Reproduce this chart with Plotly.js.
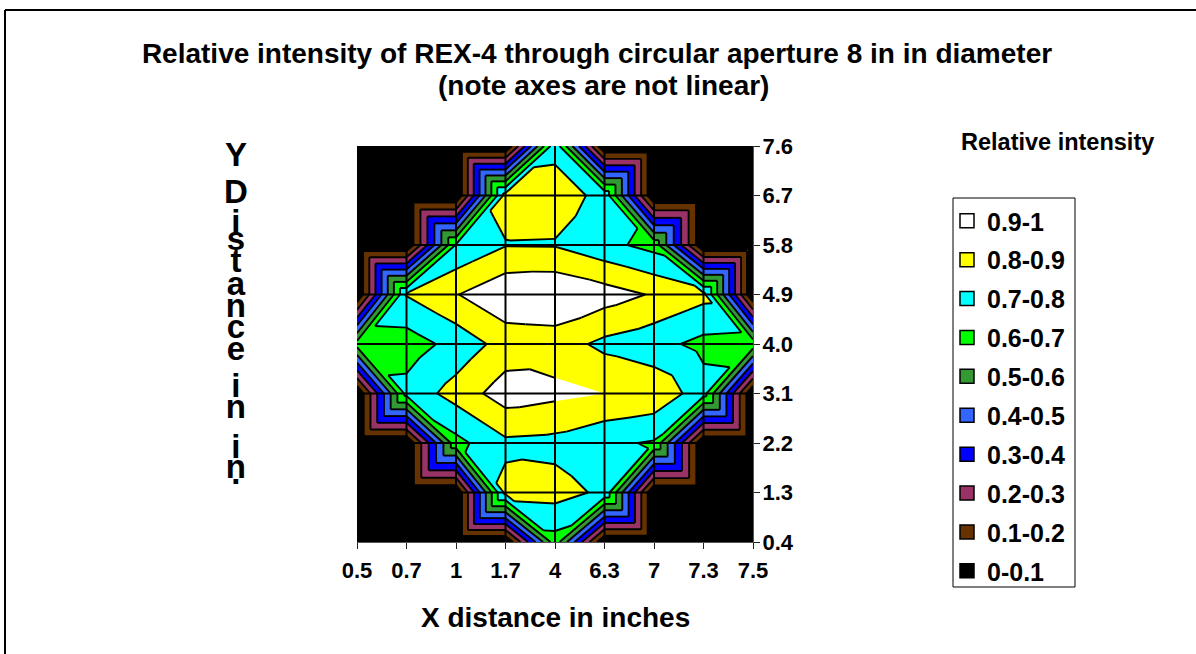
<!DOCTYPE html>
<html>
<head>
<meta charset="utf-8">
<script src="https://cdn.plot.ly/plotly-3.0.1.min.js"></script>
<style>html,body{margin:0;padding:0;background:#fff}#chart{width:1196px;height:654px}</style>
</head>
<body>
<div id="chart"></div>
<script>
// ---------- data ----------
const xLabels = ['0.5','0.7','1','1.7','4','6.3','7','7.3','7.5'];
const yLabels = ['7.6','6.7','5.8','4.9','4.0','3.1','2.2','1.3','0.4'];
const row76 = [0,0,0,0,0.77,0,0,0,0];
const row67 = [0,0,0,0.84,0.85,0.77,0,0,0];
const row58 = [0,0,0.71,0.795,0.793,0.73,0.665,0,0];
const row49 = [0,0.805,0.895,0.98,0.99,0.946,0.89,0.83,0];
const row40 = [0.64,0.648,0.735,0.84,0.848,0.775,0.735,0.67,0.66];
const row31 = [0,0.735,0.84,0.95,0.924,0.9,0.875,0.745,0];
const row22 = [0,0,0.67,0.78,0.77,0.72,0.69,0,0];
const row13 = [0,0,0,0.83,0.84,0.78,0,0,0];
const row04 = [0,0,0,0,0.66,0,0,0,0];
const bandNames = ['0.9-1','0.8-0.9','0.7-0.8','0.6-0.7','0.5-0.6','0.4-0.5','0.3-0.4','0.2-0.3','0.1-0.2','0-0.1'];
const bandColors = ['#FFFFFF','#FFFF00','#00FFFF','#00FF00','#339933','#3366FF','#0000FF','#993366','#663300','#000000'];
const bandLows = [0.9,0.8,0.7,0.6,0.5,0.4,0.3,0.2,0.1,0];
const bandHighs = [1,0.9,0.8,0.7,0.6,0.5,0.4,0.3,0.2,0.1];
const contourLevels = [0.1,0.2,0.3,0.4,0.5,0.6,0.7,0.8,0.9];
const titleLine1 = 'Relative intensity of REX-4 through circular aperture 8 in in diameter';
const titleLine2 = '(note axes are not linear)';
const xTitle = 'X distance in inches';
const legendTitle = 'Relative intensity';
const yTitleLetters = ['Y','D','i','s','t','a','n','c','e','i','n','i','n','.'];
const yTitleBaselines = [166,203,233,250,272,295,317,338,360,397,418,458,478,484];

// ---------- geometry helpers ----------
const zRows = [row76,row67,row58,row49,row40,row31,row22,row13,row04];
const L=357,R=753,T=146,B=542,W=R-L,H=B-T;
const px = x => (x-L)/W, py = y => (B-y)/H;
const FONT = '"Liberation Sans", Arial, sans-serif';
const nx = xLabels.length, ny = yLabels.length;
const yNum = yLabels.map(Number);

function clip(poly, lvl, above){
  const out=[];
  for(let i=0;i<poly.length;i++){
    const a=poly[i], b=poly[(i+1)%poly.length];
    const ina = above ? a[2]>=lvl : a[2]<=lvl;
    const inb = above ? b[2]>=lvl : b[2]<=lvl;
    if(ina) out.push(a);
    if(ina!==inb){
      const t=(lvl-a[2])/(b[2]-a[2]);
      out.push([a[0]+t*(b[0]-a[0]), a[1]+t*(b[1]-a[1]), lvl]);
    }
  }
  return out;
}
const bandX = bandNames.map(()=>[]), bandY = bandNames.map(()=>[]);
const lineX=[], lineY=[];
function addPoly(b, poly){
  if(poly.length<3) return;
  poly.forEach(p=>{bandX[b].push(p[0]); bandY[b].push(p[1]);});
  bandX[b].push(poly[0][0],null); bandY[b].push(poly[0][1],null);
}
function bandOf(z){ for(let b=0;b<bandLows.length;b++){ if(z>=bandLows[b]) return b; } return bandLows.length-1; }
function addTriangle(tri){
  bandLows.forEach((lo,b)=>{
    addPoly(b, clip(clip(tri,lo,true),bandHighs[b],false));
  });
  contourLevels.forEach(l=>{
    const pts=[];
    for(let i=0;i<3;i++){
      const a=tri[i], b=tri[(i+1)%3];
      if((a[2]-l)*(b[2]-l)<0){
        const t=(l-a[2])/(b[2]-a[2]);
        pts.push([a[0]+t*(b[0]-a[0]), a[1]+t*(b[1]-a[1])]);
      }
    }
    if(pts.length===2){
      lineX.push(pts[0][0],pts[1][0],null);
      lineY.push(pts[0][1],pts[1][1],null);
    }
  });
}
for(let r=0;r<ny-1;r++){
  for(let c=0;c<nx-1;c++){
    const tl=[c,yNum[r],zRows[r][c]], tr=[c+1,yNum[r],zRows[r][c+1]];
    const bl=[c,yNum[r+1],zRows[r+1][c]], br=[c+1,yNum[r+1],zRows[r+1][c+1]];
    const bs=[tl,tr,bl,br].map(p=>bandOf(p[2]));
    if(bs.every(b=>b===bs[0])){ addPoly(bs[0],[tl,tr,br,bl]); continue; }
    if(tl[2]+br[2] >= tr[2]+bl[2]){ addTriangle([tl,tr,br]); addTriangle([tl,br,bl]); }
    else { addTriangle([tl,tr,bl]); addTriangle([tr,br,bl]); }
  }
}
const gridX=[], gridY=[];
for(let c=1;c<nx-1;c++){ gridX.push(c,c,null); gridY.push(yNum[0],yNum[ny-1],null); }
for(let r=1;r<ny-1;r++){ gridX.push(0,nx-1,null); gridY.push(yNum[r],yNum[r],null); }

// ---------- traces ----------
const traces=[];
bandNames.forEach((name,b)=>{
  traces.push({type:'scatter',mode:'lines',x:bandX[b],y:bandY[b],fill:'toself',fillcolor:bandColors[b],
    line:{width:0,simplify:false,color:bandColors[b]},connectgaps:false,showlegend:false,hoverinfo:'skip',name:name});
});
traces.push({type:'scatter',mode:'lines',x:lineX,y:lineY,connectgaps:false,line:{color:'#000',width:1.9,simplify:false},showlegend:false,hoverinfo:'skip'});
traces.push({type:'scatter',mode:'lines',x:gridX,y:gridY,connectgaps:false,line:{color:'#000',width:2,simplify:false},showlegend:false,hoverinfo:'skip'});
bandNames.forEach((name,b)=>{
  traces.push({type:'scatter',mode:'markers',x:[null],y:[null],name:name,legendgroup:name,
    marker:{symbol:'square',size:14,color:bandColors[b],line:{color:'#000',width:1.5}},hoverinfo:'skip'});
});

// ---------- annotations ----------
const annotations=[];
annotations.push({xref:'paper',yref:'paper',x:px(236),y:py(310),xanchor:'center',yanchor:'middle',
  text:yTitleLetters.join('<br>'),showarrow:false,borderpad:0,align:'center',
  font:{family:FONT,size:33,color:'#000',weight:700}});
annotations.push({xref:'paper',yref:'paper',x:px(603),y:py(86),xanchor:'center',yanchor:'middle',text:'<b>'+titleLine2+'</b>',
  showarrow:false,font:{family:FONT,size:28,color:'#000'}});
annotations.push({xref:'paper',yref:'paper',x:px(1057),y:py(142),xanchor:'center',yanchor:'middle',text:'<b>'+legendTitle+'</b>',
  showarrow:false,font:{family:FONT,size:23.5,color:'#000'}});
annotations.push({xref:'paper',yref:'paper',x:px(555),y:py(617),xanchor:'center',yanchor:'middle',text:'<b>'+xTitle+'</b>',
  showarrow:false,font:{family:FONT,size:28,color:'#000'}});

const layout={
  width:1196,height:654,margin:{l:L,r:1196-R,t:T,b:654-B,pad:0},
  paper_bgcolor:'#fff',plot_bgcolor:'#fff',
  font:{family:FONT,color:'#000'},
  title:{text:'<b>'+titleLine1+'</b>',x:597/1196,xanchor:'center',y:1-53/654,yanchor:'middle',
    font:{family:FONT,size:28,color:'#000'}},
  xaxis:{type:'linear',range:[0,nx-1],tickmode:'array',tickvals:xLabels.map((_,i)=>i),ticktext:xLabels,
    showgrid:false,zeroline:false,showline:true,linecolor:'#555',linewidth:1,ticklabelstandoff:3,
    ticks:'outside',ticklen:6,tickwidth:1,tickcolor:'#222',tickfont:{family:FONT,size:22,color:'#000',weight:700}},
  yaxis:{type:'linear',side:'right',range:[yNum[ny-1],yNum[0]],tickmode:'array',tickvals:yNum,ticktext:yLabels,
    showgrid:false,zeroline:false,showline:true,linecolor:'#555',linewidth:1,ticklabelstandoff:-2,
    ticks:'outside',ticklen:6,tickwidth:1,tickcolor:'#222',tickfont:{family:FONT,size:22,color:'#000',weight:700}},
  legend:{x:px(947),y:py(198),xanchor:'left',yanchor:'top',bgcolor:'rgba(0,0,0,0)',borderwidth:0,maxheight:420,
    traceorder:'grouped',tracegroupgap:3.4,entrywidth:85,entrywidthmode:'pixels',itemclick:false,itemdoubleclick:false,
    font:{family:FONT,size:25,color:'#000',weight:700}},
  shapes:[
    {type:'line',xref:'paper',yref:'paper',x0:px(5),x1:px(1196),y0:py(10),y1:py(10),line:{color:'#000',width:2}},
    {type:'line',xref:'paper',yref:'paper',x0:px(5),x1:px(5),y0:py(10),y1:py(654),line:{color:'#000',width:2}},
    {type:'rect',xref:'paper',yref:'paper',x0:px(953),x1:px(1075),y0:py(198),y1:py(587),line:{color:'#000',width:1},fillcolor:'rgba(0,0,0,0)'}
  ],
  annotations:annotations,
  hovermode:false,showlegend:true
};
Plotly.newPlot('chart',traces,layout,{displayModeBar:false,responsive:false}).then(gd=>{
  // tighten the stacked axis-title letters to the reference's spacing
  const texts=[...gd.querySelectorAll('.annotation-text')];
  const stacked=texts.find(t=>t.querySelectorAll('tspan.line').length===yTitleLetters.length);
  if(!stacked) return;
  const m=stacked.getScreenCTM();
  stacked.querySelectorAll('tspan.line').forEach((s,i)=>{
    s.removeAttribute('dy');
    s.setAttribute('y',(yTitleBaselines[i]-m.f)/m.d);
  });
});
</script>
</body>
</html>
